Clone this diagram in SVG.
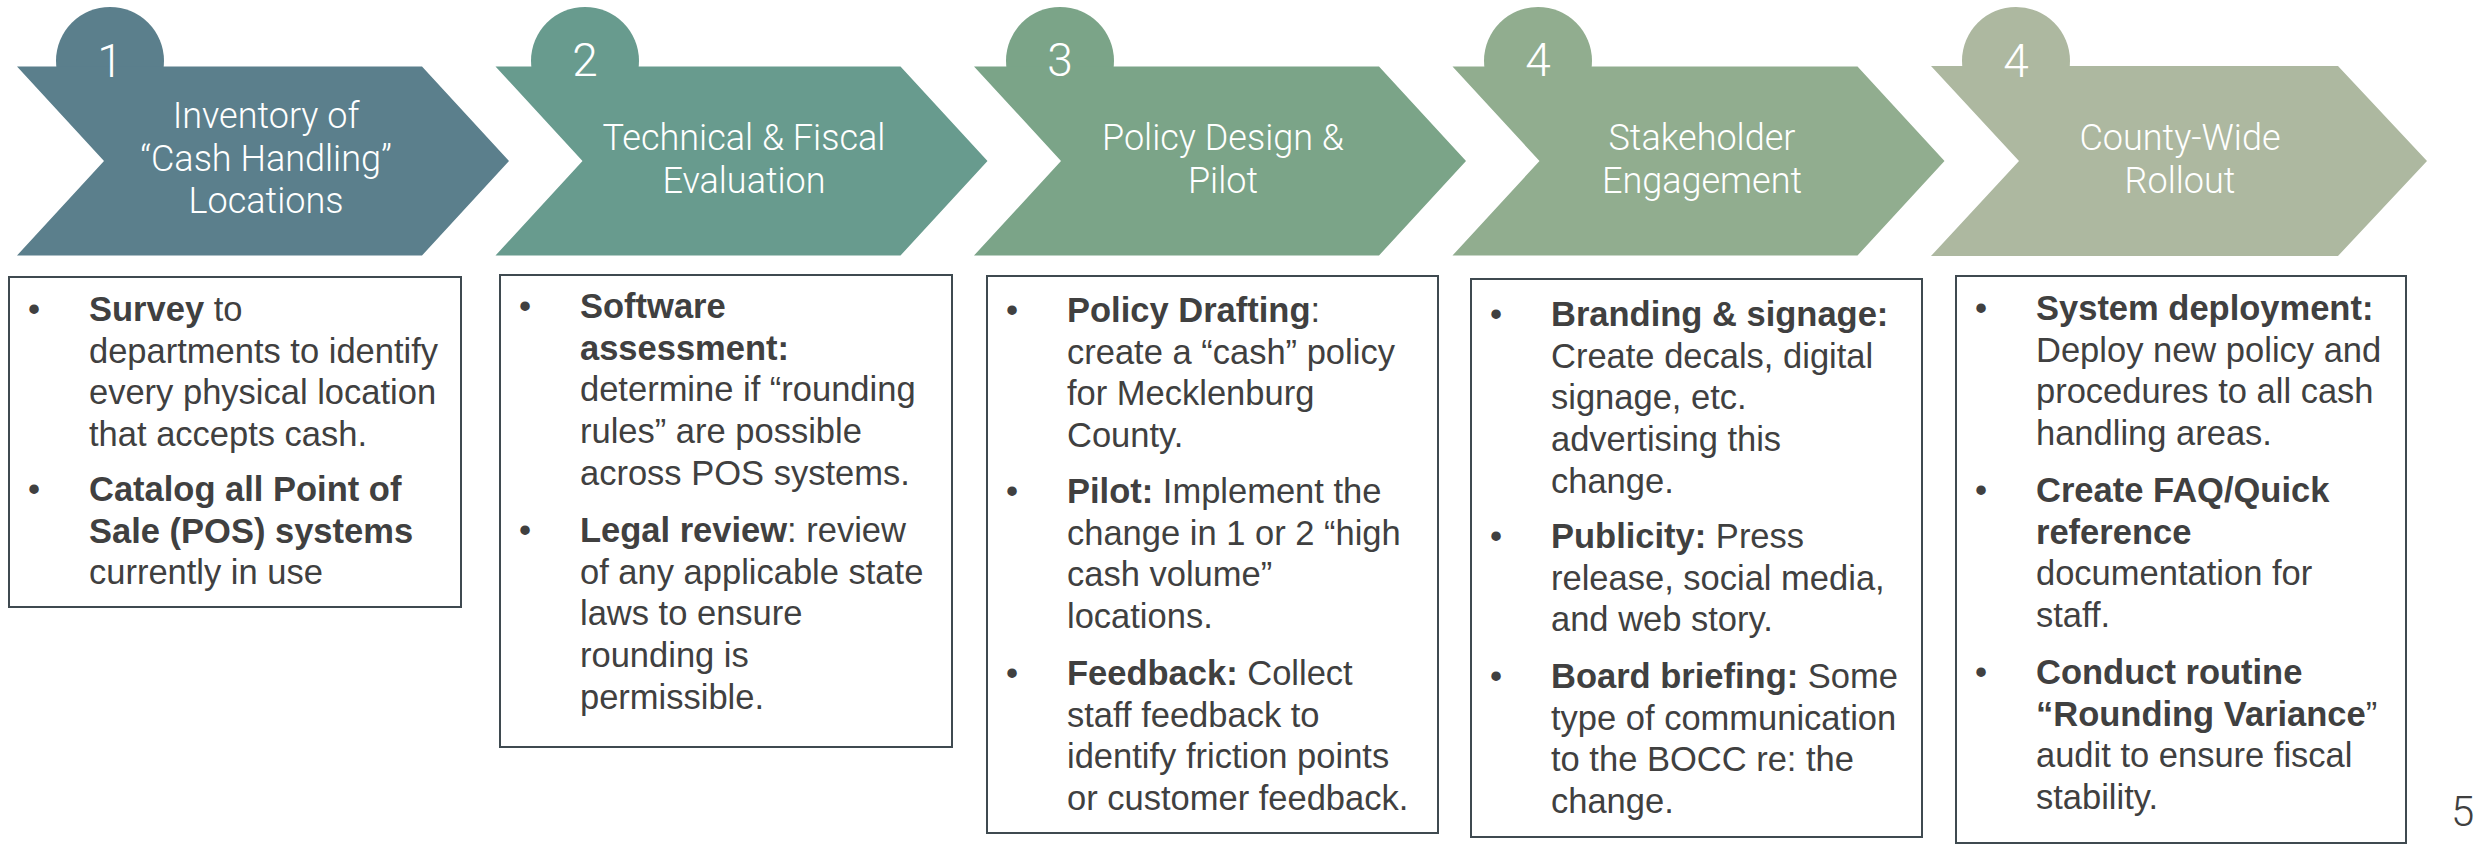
<svg xmlns="http://www.w3.org/2000/svg" width="2481" height="852" viewBox="0 0 2481 852">
  <style>
    .ttl { font-family: Roboto, "Noto Sans", "Liberation Sans", sans-serif; font-weight: 300; font-size: 36px; fill: #ffffff; text-anchor: middle; }
    .num { font-family: Roboto, "Noto Sans", "Liberation Sans", sans-serif; font-weight: 300; font-size: 46px; fill: #ffffff; text-anchor: middle; }
    .box { fill: #ffffff; stroke: #3f4a50; stroke-width: 2; }
    .txt { font-family: "Liberation Sans", Arial, sans-serif; font-size: 34.5px; fill: #404040; }
    .blt { font-family: "Liberation Sans", Arial, sans-serif; font-size: 34.5px; fill: #404040; text-anchor: middle; }
    .b { font-weight: bold; }
    .pg { font-family: Roboto, "Noto Sans", "Liberation Sans", sans-serif; font-weight: 300; font-size: 42px; fill: #404040; }
  </style>
  <rect width="2481" height="852" fill="#ffffff"/>

  <!-- Phase chevrons with numbered tabs -->
  <g id="phase-1" fill="#5b7f8c">
    <circle cx="110" cy="61" r="54"/>
    <polygon points="17,66.5 422,66.5 509,161 422,255.5 17,255.5 104,161"/>
    <text class="num" x="110" y="77">1</text>
    <text class="ttl" x="266" y="128">Inventory of</text>
    <text class="ttl" x="266" y="171">“Cash Handling”</text>
    <text class="ttl" x="266" y="213">Locations</text>
  </g>
  <g id="phase-2" fill="#689b8e">
    <circle cx="585" cy="61" r="54"/>
    <polygon points="495.5,66.5 900.5,66.5 987.5,161 900.5,255.5 495.5,255.5 582.5,161"/>
    <text class="num" x="585" y="76">2</text>
    <text class="ttl" x="744" y="150">Technical &amp; Fiscal</text>
    <text class="ttl" x="744" y="193">Evaluation</text>
  </g>
  <g id="phase-3" fill="#7ba488">
    <circle cx="1060" cy="61" r="54"/>
    <polygon points="974,66.5 1379,66.5 1466,161 1379,255.5 974,255.5 1061,161"/>
    <text class="num" x="1060" y="76">3</text>
    <text class="ttl" x="1223" y="150">Policy Design &amp;</text>
    <text class="ttl" x="1223" y="193">Pilot</text>
  </g>
  <g id="phase-4" fill="#91ad8f">
    <circle cx="1538" cy="61" r="54"/>
    <polygon points="1452.5,66.5 1857.5,66.5 1944.5,161 1857.5,255.5 1452.5,255.5 1539.5,161"/>
    <text class="num" x="1538" y="76">4</text>
    <text class="ttl" x="1702" y="150">Stakeholder</text>
    <text class="ttl" x="1702" y="193">Engagement</text>
  </g>
  <g id="phase-5" fill="#adb8a0">
    <circle cx="2016" cy="61" r="54"/>
    <polygon points="1931,66 2338,66 2427,161 2338,256 1931,256 2019,161"/>
    <text class="num" x="2016" y="77">4</text>
    <text class="ttl" x="2180" y="150">County-Wide</text>
    <text class="ttl" x="2180" y="193">Rollout</text>
  </g>

  <!-- Detail boxes under each phase -->
  <g id="details-1">
    <rect class="box" x="9" y="277" width="452" height="330"/>
    <text class="blt" x="34" y="321">•</text>
    <text class="txt" x="89" y="321"><tspan class="b">Survey</tspan> to</text>
    <text class="txt" x="89" y="362.7">departments to identify</text>
    <text class="txt" x="89" y="404.4">every physical location</text>
    <text class="txt" x="89" y="446.1">that accepts cash.</text>
    <text class="blt" x="34" y="501">•</text>
    <text class="txt b" x="89" y="501">Catalog all Point of</text>
    <text class="txt b" x="89" y="542.7">Sale (POS) systems</text>
    <text class="txt" x="89" y="584.4">currently in use</text>
  </g>
  <g id="details-2">
    <rect class="box" x="500" y="275" width="452" height="472"/>
    <text class="blt" x="525" y="318">•</text>
    <text class="txt b" x="580" y="318">Software</text>
    <text class="txt b" x="580" y="359.7">assessment:</text>
    <text class="txt" x="580" y="401.4">determine if “rounding</text>
    <text class="txt" x="580" y="443.1">rules” are possible</text>
    <text class="txt" x="580" y="484.8">across POS systems.</text>
    <text class="blt" x="525" y="542">•</text>
    <text class="txt" x="580" y="542"><tspan class="b">Legal review</tspan>: review</text>
    <text class="txt" x="580" y="583.7">of any applicable state</text>
    <text class="txt" x="580" y="625.4">laws to ensure</text>
    <text class="txt" x="580" y="667.1">rounding is</text>
    <text class="txt" x="580" y="708.8">permissible.</text>
  </g>
  <g id="details-3">
    <rect class="box" x="987" y="276" width="451" height="557"/>
    <text class="blt" x="1012" y="322">•</text>
    <text class="txt" x="1067" y="322"><tspan class="b">Policy Drafting</tspan>:</text>
    <text class="txt" x="1067" y="363.7">create a “cash” policy</text>
    <text class="txt" x="1067" y="405.4">for Mecklenburg</text>
    <text class="txt" x="1067" y="447.1">County.</text>
    <text class="blt" x="1012" y="503">•</text>
    <text class="txt" x="1067" y="503"><tspan class="b">Pilot:</tspan> Implement the</text>
    <text class="txt" x="1067" y="544.7">change in 1 or 2 “high</text>
    <text class="txt" x="1067" y="586.4">cash volume”</text>
    <text class="txt" x="1067" y="628.1">locations.</text>
    <text class="blt" x="1012" y="685">•</text>
    <text class="txt" x="1067" y="685"><tspan class="b">Feedback:</tspan> Collect</text>
    <text class="txt" x="1067" y="726.7">staff feedback to</text>
    <text class="txt" x="1067" y="768.4">identify friction points</text>
    <text class="txt" x="1067" y="810.1">or customer feedback.</text>
  </g>
  <g id="details-4">
    <rect class="box" x="1471" y="279" width="451" height="558"/>
    <text class="blt" x="1496" y="326">•</text>
    <text class="txt b" x="1551" y="326">Branding &amp; signage:</text>
    <text class="txt" x="1551" y="367.7">Create decals, digital</text>
    <text class="txt" x="1551" y="409.4">signage, etc.</text>
    <text class="txt" x="1551" y="451.1">advertising this</text>
    <text class="txt" x="1551" y="492.8">change.</text>
    <text class="blt" x="1496" y="548">•</text>
    <text class="txt" x="1551" y="548"><tspan class="b">Publicity:</tspan> Press</text>
    <text class="txt" x="1551" y="589.7">release, social media,</text>
    <text class="txt" x="1551" y="631.4">and web story.</text>
    <text class="blt" x="1496" y="688">•</text>
    <text class="txt" x="1551" y="688"><tspan class="b">Board briefing:</tspan> Some</text>
    <text class="txt" x="1551" y="729.7">type of communication</text>
    <text class="txt" x="1551" y="771.4">to the BOCC re: the</text>
    <text class="txt" x="1551" y="813.1">change.</text>
  </g>
  <g id="details-5">
    <rect class="box" x="1956" y="276" width="450" height="567"/>
    <text class="blt" x="1981" y="320">•</text>
    <text class="txt b" x="2036" y="320">System deployment:</text>
    <text class="txt" x="2036" y="361.7">Deploy new policy and</text>
    <text class="txt" x="2036" y="403.4">procedures to all cash</text>
    <text class="txt" x="2036" y="445.1">handling areas.</text>
    <text class="blt" x="1981" y="502">•</text>
    <text class="txt b" x="2036" y="502">Create FAQ/Quick</text>
    <text class="txt b" x="2036" y="543.7">reference</text>
    <text class="txt" x="2036" y="585.4">documentation for</text>
    <text class="txt" x="2036" y="627.1">staff.</text>
    <text class="blt" x="1981" y="684">•</text>
    <text class="txt b" x="2036" y="684">Conduct routine</text>
    <text class="txt" x="2036" y="725.7"><tspan class="b">“Rounding Variance</tspan>”</text>
    <text class="txt" x="2036" y="767.4">audit to ensure fiscal</text>
    <text class="txt" x="2036" y="809.1">stability.</text>
  </g>

  <!-- Slide number -->
  <text id="page-number" class="pg" x="2451" y="826">5</text>
</svg>
